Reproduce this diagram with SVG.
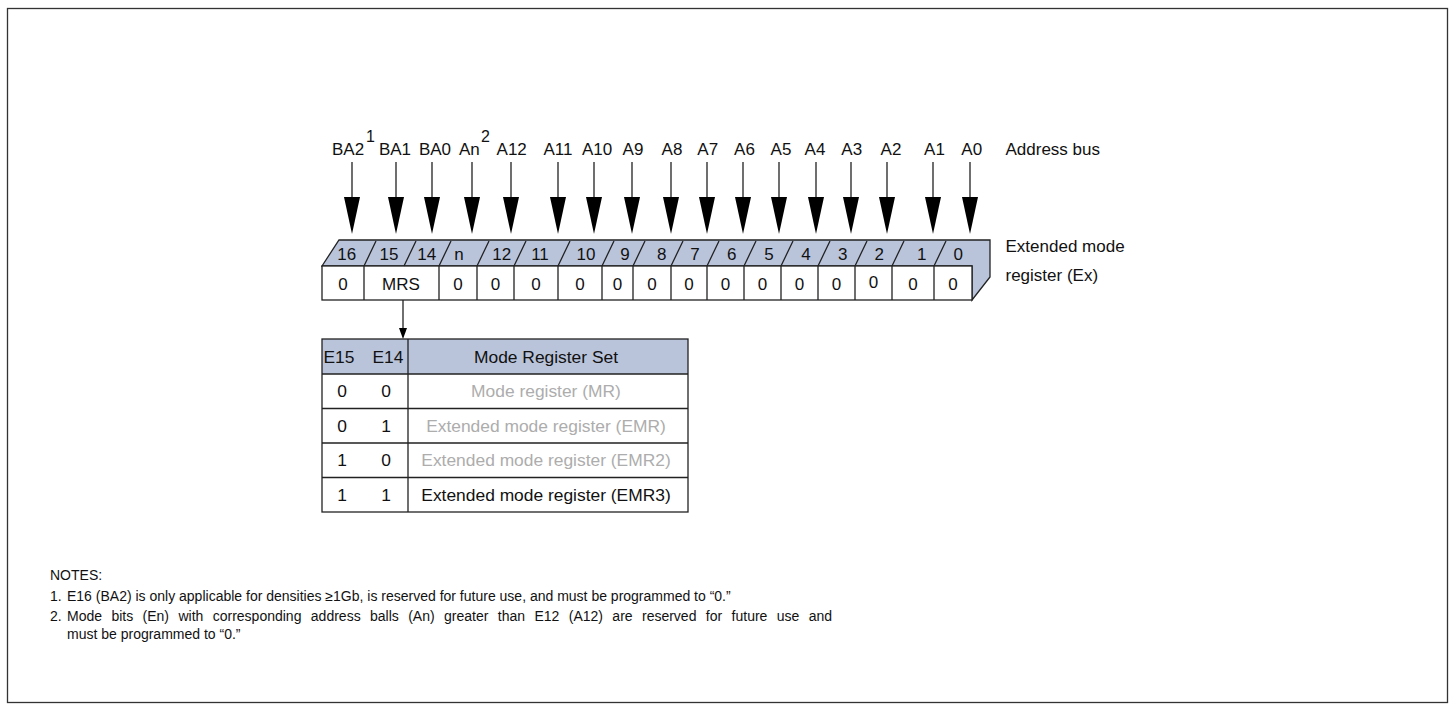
<svg xmlns="http://www.w3.org/2000/svg" width="1450" height="704" viewBox="0 0 1450 704">
<style>
text{font-family:"Liberation Sans",Arial,sans-serif;font-size:17px;fill:#111}
.c{text-anchor:middle}
.sup{font-size:16px}
.t{font-size:17.4px}
.g{fill:#adadad}
.n{font-size:14px}
.ln{stroke:#222;stroke-width:1.3;fill:none}
.band{fill:#b9c4db;stroke:#222;stroke-width:1.3}
.ah{fill:#000}
</style>
<rect x="7.5" y="8.5" width="1440" height="694" fill="#fff" stroke="#333" stroke-width="1.3"/>

<g id="address-labels">
<text x="332" y="155">BA2</text><text class="sup" x="366" y="142">1</text>
<text class="c" x="395" y="155">BA1</text>
<text class="c" x="435" y="155">BA0</text>
<text x="459" y="155">An</text><text class="sup" x="481" y="142">2</text>
<text class="c" x="511.7" y="155">A12</text>
<text class="c" x="558" y="155">A11</text>
<text class="c" x="597" y="155">A10</text>
<text class="c" x="633" y="155">A9</text>
<text class="c" x="672" y="155">A8</text>
<text class="c" x="707.7" y="155">A7</text>
<text class="c" x="744.5" y="155">A6</text>
<text class="c" x="781" y="155">A5</text>
<text class="c" x="815" y="155">A4</text>
<text class="c" x="851.7" y="155">A3</text>
<text class="c" x="891" y="155">A2</text>
<text class="c" x="934.5" y="155">A1</text>
<text class="c" x="971.7" y="155">A0</text>
<text x="1005.5" y="155">Address bus</text>
</g>

<g id="connectors">
<g class="ln">
<path d="M352 162V198M396 162V198M432 162V198M472 162V198M511 162V198M558 162V198M594 162V198M632 162V198M671 162V198M707 162V198M743 162V198M779 162V198M816 162V198M851 162V198M887 162V198M933 162V198M970 162V198"/>
<path d="M403 300V330"/>
</g>
<g class="ah">
<polygon points="344,197 360,197 352,234"/>
<polygon points="388,197 404,197 396,234"/>
<polygon points="424,197 440,197 432,234"/>
<polygon points="464,197 480,197 472,234"/>
<polygon points="503,197 519,197 511,234"/>
<polygon points="550,197 566,197 558,234"/>
<polygon points="586,197 602,197 594,234"/>
<polygon points="624,197 640,197 632,234"/>
<polygon points="663,197 679,197 671,234"/>
<polygon points="699,197 715,197 707,234"/>
<polygon points="735,197 751,197 743,234"/>
<polygon points="771,197 787,197 779,234"/>
<polygon points="808,197 824,197 816,234"/>
<polygon points="843,197 859,197 851,234"/>
<polygon points="879,197 895,197 887,234"/>
<polygon points="925,197 941,197 933,234"/>
<polygon points="962,197 978,197 970,234"/>
<polygon points="399,328 407,328 403,339"/>
</g>
</g>

<g id="register">
<polygon class="band" points="339,240 990,240 990,277 972,300 972,266 322,266"/>
<rect x="322" y="266" width="650" height="34" fill="#fff" stroke="#222" stroke-width="1.3"/>
<path class="ln" d="M364 266l12 -25M404 266l12 -25M439 266l12 -25M477 266l12 -25M514 266l12 -25M558 266l12 -25M602 266l12 -25M633 266l12 -25M671 266l12 -25M707 266l12 -25M744 266l12 -25M781 266l12 -25M818 266l12 -25M855 266l12 -25M892 266l12 -25M934 266l12 -25"/>
<path class="ln" d="M364 266V300M439 266V300M477 266V300M514 266V300M558 266V300M602 266V300M633 266V300M671 266V300M707 266V300M744 266V300M781 266V300M818 266V300M855 266V300M892 266V300M934 266V300"/>
<text class="c" x="346.7" y="260">16</text>
<text class="c" x="389" y="260">15</text>
<text class="c" x="426.7" y="260">14</text>
<text class="c" x="459" y="260">n</text>
<text class="c" x="501.7" y="260">12</text>
<text class="c" x="540" y="260">11</text>
<text class="c" x="586" y="260">10</text>
<text class="c" x="625" y="260">9</text>
<text class="c" x="661.7" y="260">8</text>
<text class="c" x="695" y="260">7</text>
<text class="c" x="731.7" y="260">6</text>
<text class="c" x="769" y="260">5</text>
<text class="c" x="806" y="260">4</text>
<text class="c" x="842.7" y="260">3</text>
<text class="c" x="879.3" y="260">2</text>
<text class="c" x="921.7" y="260">1</text>
<text class="c" x="958.3" y="260">0</text>
<text class="c" x="343" y="290">0</text>
<text class="c" x="401" y="290">MRS</text>
<text class="c" x="458" y="290">0</text>
<text class="c" x="495.5" y="290">0</text>
<text class="c" x="536" y="290">0</text>
<text class="c" x="580" y="290">0</text>
<text class="c" x="617.5" y="290">0</text>
<text class="c" x="652" y="290">0</text>
<text class="c" x="689" y="290">0</text>
<text class="c" x="725.5" y="290">0</text>
<text class="c" x="762.5" y="290">0</text>
<text class="c" x="799.5" y="290">0</text>
<text class="c" x="836.5" y="290">0</text>
<text class="c" x="873.5" y="288">0</text>
<text class="c" x="913" y="290">0</text>
<text class="c" x="953" y="290">0</text>
<text x="1005.5" y="252">Extended mode</text>
<text x="1005.5" y="281">register (Ex)</text>
</g>

<g id="mrs-table">
<rect x="322" y="339" width="366" height="35" fill="#b9c4db"/>
<rect x="322" y="339" width="366" height="173" fill="none" stroke="#222" stroke-width="1.3"/>
<path class="ln" d="M408 339V512M322 374H688M322 408.5H688M322 443H688M322 477.5H688"/>
<text class="c t" x="339" y="363">E15</text>
<text class="c t" x="388" y="363">E14</text>
<text class="c t" x="546" y="363">Mode Register Set</text>
<text class="c t" x="342" y="397">0</text><text class="c t" x="386" y="397">0</text>
<text class="c t g" x="546" y="397">Mode register (MR)</text>
<text class="c t" x="342" y="431.5">0</text><text class="c t" x="386" y="431.5">1</text>
<text class="c t g" x="546" y="431.5">Extended mode register (EMR)</text>
<text class="c t" x="342" y="466">1</text><text class="c t" x="386" y="466">0</text>
<text class="c t g" x="546" y="466">Extended mode register (EMR2)</text>
<text class="c t" x="342" y="500.5">1</text><text class="c t" x="386" y="500.5">1</text>
<text class="c t" x="546" y="500.5">Extended mode register (EMR3)</text>
</g>

<g id="notes">
<text class="n" x="50" y="580">NOTES:</text>
<text class="n" x="50" y="601">1.</text>
<text class="n" x="67" y="601">E16 (BA2) is only applicable for densities ≥1Gb, is reserved for future use, and must be programmed to “0.”</text>
<text class="n" x="50" y="621">2.</text>
<text class="n" x="67" y="621" word-spacing="5.5">Mode bits (En) with corresponding address balls (An) greater than E12 (A12) are reserved for future use and</text>
<text class="n" x="67" y="639">must be programmed to “0.”</text>
</g>
</svg>
